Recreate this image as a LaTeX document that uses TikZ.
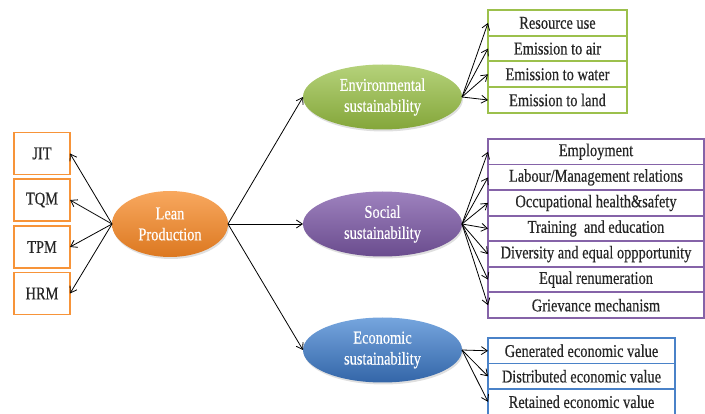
\documentclass[tikz,border=0pt]{standalone}
\usepackage{fontspec}
\setmainfont[FakeStretch=0.8, FakeBold=0.4]{Liberation Serif}
\usetikzlibrary{shapes.geometric, arrows.meta, shadows}

\definecolor{leanorange}{HTML}{F79439}
\definecolor{leantop}{HTML}{F8A85F}
\definecolor{leanbot}{HTML}{DC7820}
\definecolor{envgreen}{HTML}{9CC04C}
\definecolor{envtop}{HTML}{B5D27A}
\definecolor{envbot}{HTML}{84A63A}
\definecolor{socpurple}{HTML}{8563A8}
\definecolor{soctop}{HTML}{9E82BE}
\definecolor{socbot}{HTML}{6A4C8E}
\definecolor{ecoblue}{HTML}{4A82C8}
\definecolor{ecotop}{HTML}{76A5DE}
\definecolor{ecobot}{HTML}{3366A8}

\begin{document}
\begin{tikzpicture}[x=1pt, y=-1pt, font=\fontsize{18}{21}\selectfont,
    every node/.style={outer sep=0pt, inner sep=0pt},
    box/.style={draw, fill=white, line width=1.8pt, minimum height=25.6pt, text=black!85},
    leftbox/.style={box, draw=leanorange, minimum width=56pt, minimum height=42pt},
    envbox/.style={box, draw=envgreen, minimum width=139pt},
    socbox/.style={box, draw=socpurple, minimum width=216pt},
    ecobox/.style={box, draw=ecoblue, minimum width=187pt},
    blob/.style={ellipse, minimum width=159pt, minimum height=65pt, text=white, align=center,
        drop shadow={opacity=0.25, shadow xshift=1pt, shadow yshift=-2pt}},
    link/.style={-{Straight Barb[length=6pt, width=8pt]}, line width=0.8pt}]
    \useasboundingbox (0, 0) rectangle (705, 414);

    % lean practices
    \node[leftbox] (jit) at (42, 153.5) {JIT};
    \node[leftbox] (tqm) at (42, 200) {TQM};
    \node[leftbox] (tpm) at (42, 247) {TPM};
    \node[leftbox] (hrm) at (42, 293.5) {HRM};

    % ellipses
    \node[blob, minimum width=116pt, minimum height=66pt, top color=leantop, middle color=leanorange, bottom color=leanbot] (lean) at (170, 224) {Lean\\Production};
    \node[blob, top color=envtop, middle color=envgreen, bottom color=envbot] (env) at (382.5, 97) {Environmental\\sustainability};
    \node[blob, top color=soctop, middle color=socpurple, bottom color=socbot] (soc) at (382.5, 224) {Social\\sustainability};
    \node[blob, top color=ecotop, middle color=ecoblue, bottom color=ecobot] (eco) at (382.5, 350) {Economic\\sustainability};

    % environmental indicators
    \node[envbox] (res) at (557.5, 22.9) {Resource use};
    \node[envbox] (air) at (557.5, 48.6) {Emission to air};
    \node[envbox] (water) at (557.5, 74.3) {Emission to water};
    \node[envbox] (land) at (557.5, 100) {Emission to land};

    % social indicators
    \node[socbox] (employ) at (596, 151.8) {Employment};
    \node[socbox] (labour) at (596, 177.4) {Labour/Management relations};
    \node[socbox] (health) at (596, 202.9) {Occupational health\&safety};
    \node[socbox] (train) at (596, 228.5) {Training\ \ and education};
    \node[socbox] (divers) at (596, 254.1) {Diversity and equal oppportunity};
    \node[socbox] (remun) at (596, 279.6) {Equal renumeration};
    \node[socbox] (griev) at (596, 305.2) {Grievance mechanism};

    % economic indicators
    \node[ecobox] (gen) at (581.5, 350.8) {Generated economic value};
    \node[ecobox] (dist) at (581.5, 376.3) {Distributed economic value};
    \node[ecobox] (ret) at (581.5, 401.8) {Retained economic value};

    % connectors
    \draw[link] (lean.west) -- (jit.east);
    \draw[link] (lean.west) -- (tqm.east);
    \draw[link] (lean.west) -- (tpm.east);
    \draw[link] (lean.west) -- (hrm.east);
    \draw[link] (lean.east) -- (env.west);
    \draw[link] (lean.east) -- (soc.west);
    \draw[link] (lean.east) -- (eco.west);
    \draw[link] (env.east) -- (res.west);
    \draw[link] (env.east) -- (air.west);
    \draw[link] (env.east) -- (water.west);
    \draw[link] (env.east) -- (land.west);
    \draw[link] (soc.east) -- (employ.west);
    \draw[link] (soc.east) -- (labour.west);
    \draw[link] (soc.east) -- (health.west);
    \draw[link] (soc.east) -- (train.west);
    \draw[link] (soc.east) -- (divers.west);
    \draw[link] (soc.east) -- (remun.west);
    \draw[link] (soc.east) -- (griev.west);
    \draw[link] (eco.east) -- (gen.west);
    \draw[link] (eco.east) -- (dist.west);
    \draw[link] (eco.east) -- (ret.west);
\end{tikzpicture}
\end{document}
